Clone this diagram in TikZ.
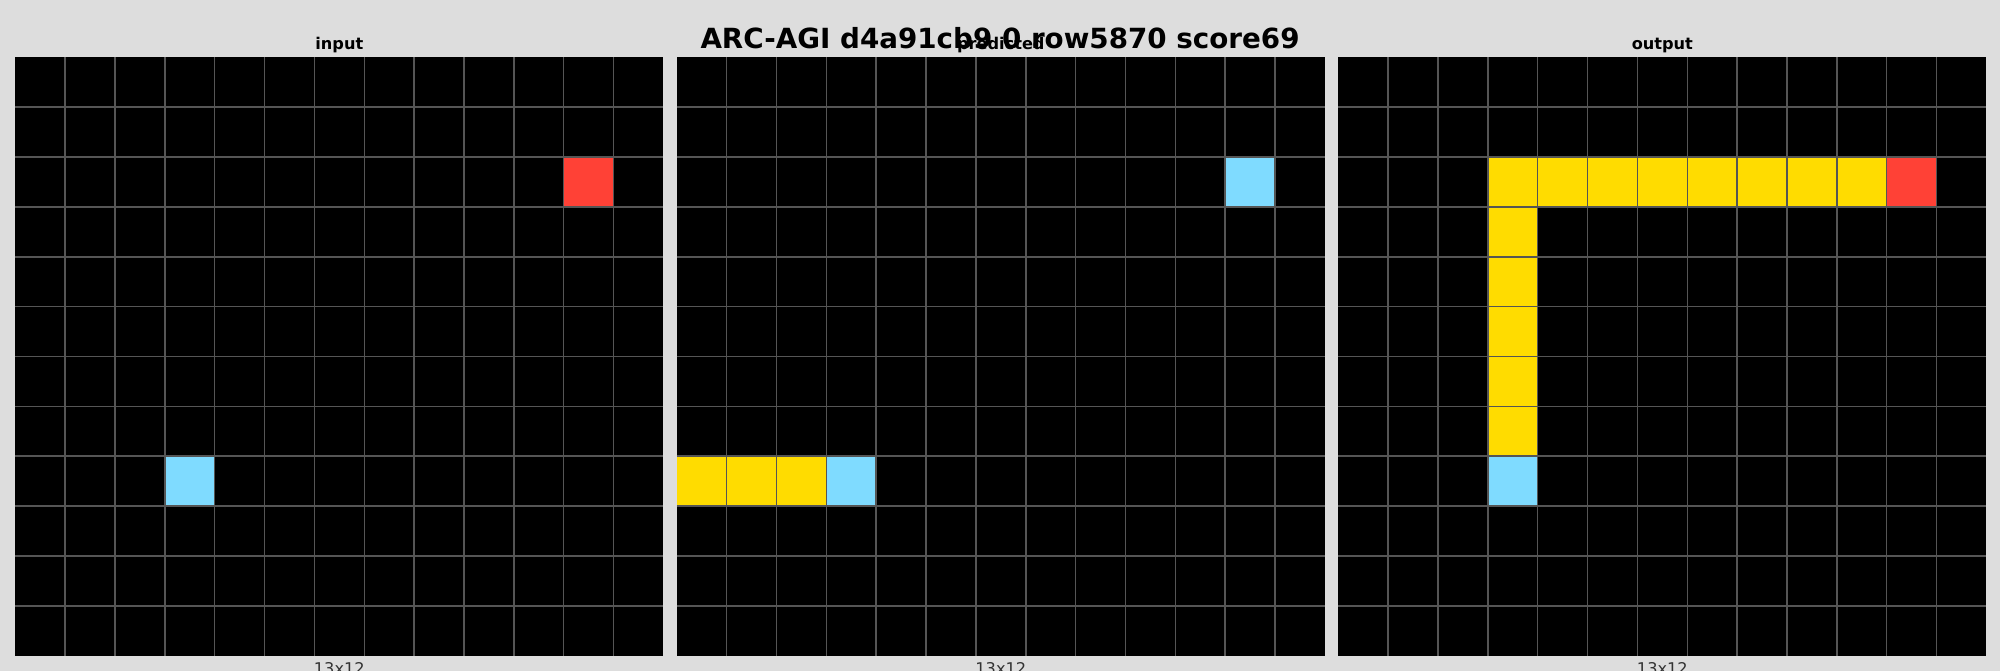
\documentclass[tikz,border=0pt]{standalone}
\usepackage{fontspec}
\setmainfont{DejaVu Sans}
\definecolor{bg}{HTML}{DDDDDD}
\definecolor{gridgrey}{HTML}{555555}
\definecolor{arcred}{HTML}{FF4136}
\definecolor{arcblue}{HTML}{7FDBFF}
\definecolor{arcyellow}{HTML}{FFDC00}
\definecolor{dimtext}{HTML}{333333}
\newcommand{\cellsz}{49.85}
\newcommand{\gtop}{57.4}
\newcommand{\paintcell}[4]{\fill[#4] ({#1+#2*\cellsz},{\gtop+#3*\cellsz}) rectangle ++(\cellsz,\cellsz);}
\newcommand{\panelgrid}[1]{%
  \foreach \i in {1,...,12} {\draw[gridline] ({#1+\i*\cellsz},\gtop) -- ++(0,598.2);}
  \foreach \j in {1,...,11} {\draw[gridline] (#1,{\gtop+\j*\cellsz}) -- ++(648,0);}
}
\tikzset{
  gridline/.style={draw=gridgrey, line width=0.03cm},
  paneltitle/.style={anchor=base, font=\fontsize{9.2}{11}\selectfont\bfseries, inner sep=0pt},
  sizelabel/.style={anchor=base, font=\fontsize{9.2}{11}\selectfont, text=dimtext, inner sep=0pt},
  maintitle/.style={anchor=base, font=\fontsize{15.8}{19}\selectfont\bfseries, inner sep=0pt}
}
\begin{document}
\begin{tikzpicture}[x=0.02cm,y=-0.02cm]
\fill[bg] (0,0) rectangle (2000,671);
\useasboundingbox (0,0) rectangle (2000,671);
% panels
\foreach \px in {15.3,676.8,1338.3} {\fill[black] (\px,\gtop) rectangle ++(648,598.2);}
% input
\paintcell{15.3}{11}{2}{arcred}
\paintcell{15.3}{3}{8}{arcblue}
% predicted
\paintcell{676.8}{11}{2}{arcblue}
\foreach \c in {0,1,2} {\paintcell{676.8}{\c}{8}{arcyellow}}
\paintcell{676.8}{3}{8}{arcblue}
% output
\foreach \c in {3,...,10} {\paintcell{1338.3}{\c}{2}{arcyellow}}
\paintcell{1338.3}{11}{2}{arcred}
\foreach \r in {3,...,7} {\paintcell{1338.3}{3}{\r}{arcyellow}}
\paintcell{1338.3}{3}{8}{arcblue}
% grids
\panelgrid{15.3}
\panelgrid{676.8}
\panelgrid{1338.3}
% labels
\node[paneltitle] (tin) at (339.3,50) {input};
\node[paneltitle] (tpred) at (1000.8,50) {predicted};
\node[paneltitle] (tout) at (1662.3,50) {output};
\node[sizelabel] (sin) at (339.3,674) {13x12};
\node[sizelabel] (spred) at (1000.8,674) {13x12};
\node[sizelabel] (sout) at (1662.3,674) {13x12};
\node[maintitle] (title) at (1000,49) {ARC-AGI d4a91cb9 0 row5870 score69};
\end{tikzpicture}
\end{document}
